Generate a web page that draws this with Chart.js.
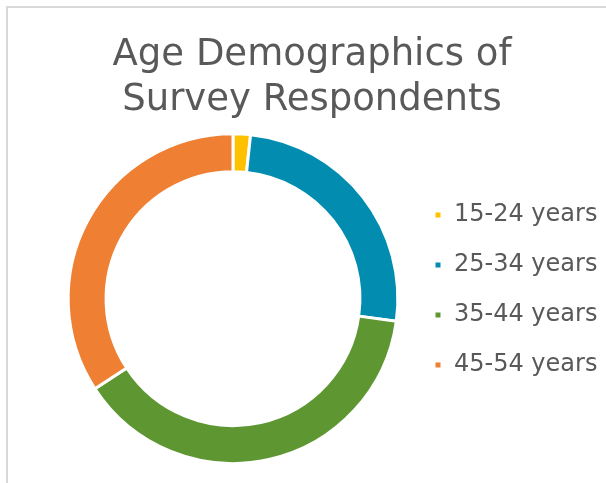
<!DOCTYPE html>
<html lang="en">
<head>
<meta charset="UTF-8" />
<title>Age Demographics of Survey Respondents</title>
<script src="https://cdn.jsdelivr.net/npm/chart.js"></script>
<style>
  body {
    margin: 0;
    background: #ffffff;
  }
  #wrap {
    position: relative;
    width: 606px;
    height: 483px;
    overflow: hidden;
  }
  /* light frame of the chart area, left and top only */
  #frame {
    position: absolute;
    left: 6px;
    top: 6px;
    width: 700px;
    height: 600px;
    border-left: 2px solid #d9d9d9;
    border-top: 2px solid #d9d9d9;
  }
  canvas {
    position: absolute;
    left: 0;
    top: 0;
  }
</style>
</head>
<body>
<div id="wrap">
  <div id="frame"></div>
  <canvas id="ageChart" width="606" height="483"></canvas>
</div>

<script>
const ageGroups = ['15-24 years', '25-34 years', '35-44 years', '45-54 years'];
const shares = [1.7, 25.5, 38.6, 34.2];
const sliceColors = ['#FFC000', '#028CB0', '#5E9732', '#EE7F33'];
const titleLines = ['Age Demographics of', 'Survey Respondents'];

// legend box is kept narrow for layout; widen its clip area so the text is not cut
const legendClipFix = {
  id: 'legendClipFix',
  afterLayout(chart) {
    if (chart.legend) {
      chart.legend.right = chart.width;
      chart.legend.width = chart.width - chart.legend.left;
    }
  }
};

const ctx = document.getElementById('ageChart').getContext('2d');
new Chart(ctx, {
  type: 'doughnut',
  data: {
    labels: ageGroups,
    datasets: [{
      data: shares,
      backgroundColor: sliceColors,
      borderColor: '#ffffff',
      borderWidth: 3,
      hoverOffset: 0
    }]
  },
  options: {
    responsive: false,
    animation: false,
    cutout: '77%',
    layout: {
      padding: { left: 58, right: 40, top: 0, bottom: 18 }
    },
    plugins: {
      title: {
        display: true,
        text: titleLines,
        color: '#595959',
        font: { family: 'DejaVu Sans', size: 37, weight: 'normal', lineHeight: 1.22 },
        padding: { top: 33, bottom: 9 }
      },
      legend: {
        position: 'right',
        align: 'start',
        maxWidth: 158,
        // empty title only used as a spacer to push the items down
        title: {
          display: true,
          text: ' ',
          font: { size: 10 },
          padding: { top: 165, bottom: 0 }
        },
        labels: {
          color: '#595959',
          font: { family: 'DejaVu Sans', size: 24 },
          boxWidth: 8,
          boxHeight: 8,
          padding: 26
        }
      },
      tooltip: { enabled: false }
    }
  },
  plugins: [legendClipFix]
});
</script>
</body>
</html>
